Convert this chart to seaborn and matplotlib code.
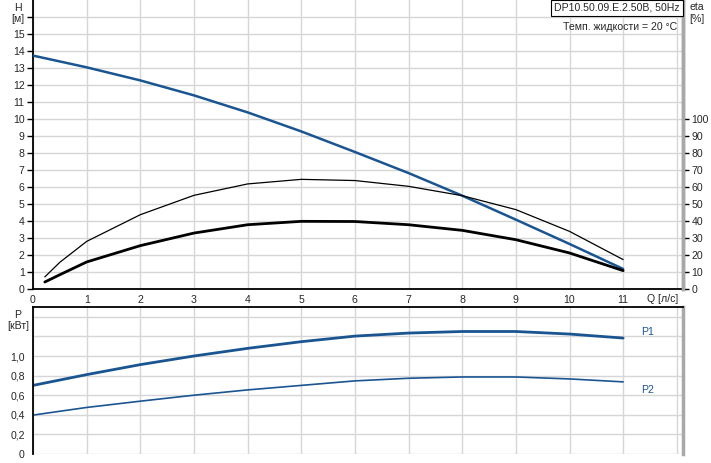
import matplotlib
matplotlib.use("Agg")
import matplotlib.pyplot as plt
import numpy as np
import pandas as pd
import seaborn as sns

# ---- data ----
q_h = [0, 1, 2, 3, 4, 5, 6, 7, 8, 9, 10, 11]
head = [13.73, 13.04, 12.27, 11.39, 10.39, 9.27, 8.06, 6.82, 5.49, 4.08, 2.65, 1.18]

q_eta = [0.22, 0.5, 1, 2, 3, 4, 5, 6, 7, 8, 9, 10, 11]
eta_pump = [7.1, 15.7, 28.0, 43.7, 55.1, 61.8, 64.5, 63.8, 60.4, 54.9, 46.7, 33.9, 17.3]
eta_total = [4.1, 8.4, 15.9, 25.5, 32.9, 37.8, 39.8, 39.7, 37.8, 34.5, 29.0, 21.2, 10.8]

q_p = [0, 1, 2, 3, 4, 5, 6, 7, 8, 9, 10, 11]
p1 = [0.70, 0.81, 0.912, 1.0, 1.078, 1.146, 1.203, 1.234, 1.25, 1.25, 1.224, 1.183]
p2 = [0.397, 0.475, 0.539, 0.60, 0.654, 0.70, 0.746, 0.773, 0.786, 0.786, 0.766, 0.736]

x_ticks = list(range(0, 13))
x_labels = [str(i) for i in range(0, 12)]
h_ticks = list(range(0, 17))
h_labels = [str(i) for i in range(0, 16)]
eta_ticks = list(range(0, 101, 10))
p_ticks = [0, 0.2, 0.4, 0.6, 0.8, 1.0, 1.2, 1.4]
p_labels = ["0", "0,2", "0,4", "0,6", "0,8", "1,0"]

title_text = "DP10.50.09.E.2.50B, 50Hz"
temp_text = "Темп. жидкости = 20 °C"

sns.set_style("white")
plt.rcParams['font.family'] = ['Liberation Sans', 'DejaVu Sans']
plt.rcParams['font.size'] = 7.5

FS = 7.6
BLUE = "#1a5592"
GRID = "#d6d6d6"
RSPINE = "#a8a8a8"

W, H = 711, 463
fig = plt.figure(figsize=(W / 100, H / 100), dpi=100)

def fx(px):
    return px / W

def fy(py):
    return 1 - py / H

L, R = 33, 683
ax = fig.add_axes([fx(L), fy(289), fx(R - L), (289 - 0) / H])
axb = fig.add_axes([fx(L), fy(454), fx(R - L), (454 - 307) / H])

xmax = (R - L) / 53.65

# ---- top panel ----
df_h = pd.DataFrame({"Q": q_h, "H": head})
sns.lineplot(data=df_h, x="Q", y="H", ax=ax, color=BLUE, lw=1.8, zorder=4)
ax.set_xlim(0, xmax)
ax.set_ylim(0, 17)
ax.set_xticks(x_ticks)
ax.set_xticklabels(x_labels + [""])
ax.set_yticks(h_ticks)
ax.set_yticklabels(h_labels + [""])
ax.grid(True, color=GRID, lw=1.0)
ax.set_axisbelow(True)
ax.set_xlabel("")
ax.set_ylabel("")
ax.tick_params(axis="x", length=0, pad=4, labelsize=FS)
ax.tick_params(axis="y", length=4, width=1, color="black", direction="out", pad=2, labelsize=FS)
ax.spines["top"].set_visible(False)
ax.spines["left"].set_color("black")
ax.spines["left"].set_linewidth(1.3)
ax.spines["bottom"].set_color("black")
ax.spines["bottom"].set_linewidth(1.3)
ax.spines["right"].set_color(RSPINE)
ax.spines["right"].set_linewidth(2.5)

ax2 = ax.twinx()
df_e = pd.DataFrame({"Q": q_eta, "pump": eta_pump, "total": eta_total})
sns.lineplot(data=df_e, x="Q", y="pump", ax=ax2, color="black", lw=0.9)
sns.lineplot(data=df_e, x="Q", y="total", ax=ax2, color="black", lw=2.0)
ax2.set_ylim(0, 170)
ax2.set_yticks(eta_ticks)
ax2.set_ylabel("")
ax2.tick_params(axis="y", length=4, width=1, color="black", direction="out", pad=2, labelsize=FS)
for s in ["top", "left", "bottom"]:
    ax2.spines[s].set_visible(False)
ax2.spines["right"].set_color(RSPINE)
ax2.spines["right"].set_linewidth(2.5)

fig.text(fx(18), fy(8), "H", ha="center", va="center", fontsize=FS)
fig.text(fx(18), fy(19), "[м]", ha="center", va="center", fontsize=FS)
fig.text(fx(697), fy(7), "eta", ha="center", va="center", fontsize=FS)
fig.text(fx(697), fy(19), "[%]", ha="center", va="center", fontsize=FS)
fig.text(fx(678), fy(299), "Q [л/с]", ha="right", va="center", fontsize=FS)

fig.text(fx(617), fy(8), title_text, ha="center", va="center", fontsize=FS,
         bbox=dict(boxstyle="square,pad=0.3", fc="white", ec="black", lw=0.8))
fig.text(fx(677), fy(27), temp_text, ha="right", va="center", fontsize=FS)

# ---- bottom panel ----
df_p = pd.DataFrame({"Q": q_p, "P1": p1, "P2": p2})
sns.lineplot(data=df_p, x="Q", y="P1", ax=axb, color=BLUE, lw=2.0)
sns.lineplot(data=df_p, x="Q", y="P2", ax=axb, color=BLUE, lw=1.2)
axb.set_xlim(0, xmax)
axb.set_ylim(0, 1.5)
axb.set_xticks(x_ticks)
axb.set_xticklabels([])
axb.set_yticks(p_ticks)
axb.set_yticklabels(p_labels + ["", ""])
axb.grid(True, color=GRID, lw=1.0)
axb.set_axisbelow(True)
axb.set_xlabel("")
axb.set_ylabel("")
axb.tick_params(axis="x", length=0)
axb.tick_params(axis="y", length=4, width=1, color="black", direction="out", pad=2, labelsize=FS)
axb.spines["top"].set_color("black")
axb.spines["top"].set_linewidth(1.3)
axb.spines["left"].set_color("black")
axb.spines["left"].set_linewidth(1.3)
axb.spines["bottom"].set_visible(False)
axb.spines["right"].set_color(RSPINE)
axb.spines["right"].set_linewidth(2.5)

fig.text(fx(18), fy(315), "P", ha="center", va="center", fontsize=FS)
fig.text(fx(18), fy(326), "[кВт]", ha="center", va="center", fontsize=FS)
fig.text(fx(648), fy(332), "P1", ha="center", va="center", fontsize=FS, color=BLUE)
fig.text(fx(648), fy(390), "P2", ha="center", va="center", fontsize=FS, color=BLUE)

fig.savefig("out.png", dpi=100)
